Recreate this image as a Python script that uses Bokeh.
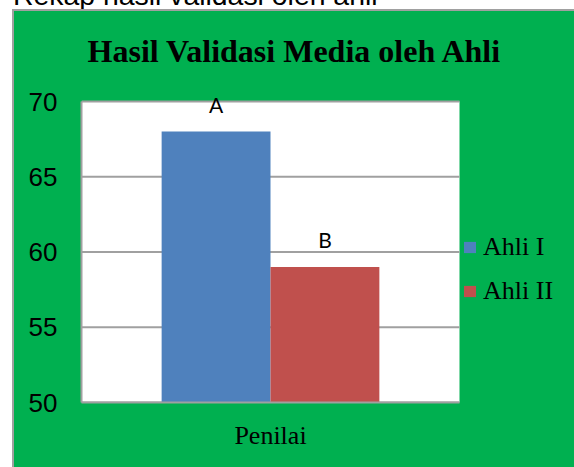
from bokeh.plotting import figure
from bokeh.models import (ColumnDataSource, Range1d, Legend, LegendItem, BoxAnnotation,
                          LabelSet, Label, FixedTicker, Div)
from bokeh.layouts import column
from bokeh.core.properties import value
from bokeh.embed import file_html
from bokeh.resources import INLINE

caption = "Rekap hasil validasi oleh ahli"
title = "Hasil Validasi Media oleh Ahli"
category = ["Penilai"]
series = ["Ahli I", "Ahli II"]
values = [68, 59]
bar_labels = ["A", "B"]
colors = ["#4F81BD", "#C0504D"]
y_ticks = [50, 55, 60, 65, 70]

GREEN = "#00B050"
GRAY = "#a0a0a0"

# layout (pixels, relative to the figure canvas)
FIG_W, FIG_H = 560, 456
PLOT_L, PLOT_W = 67, 378          # white plot area left / width
PLOT_T, PLOT_H = 90, 301          # white plot area top / height
FRAME_T = 0
FRAME_B = FIG_H - (PLOT_T + PLOT_H)

y0, y1 = y_ticks[0], y_ticks[-1]
px_per_unit = PLOT_H / (y1 - y0)
y_end = y1 + (PLOT_T - FRAME_T) / px_per_unit
x_end = (FIG_W - PLOT_L) / PLOT_W * len(category)

p = figure(width=FIG_W, height=FIG_H, x_range=Range1d(0, x_end), y_range=Range1d(y0, y_end),
           output_backend="svg", toolbar_location=None,
           min_border_left=PLOT_L, min_border_right=0, min_border_top=FRAME_T,
           min_border_bottom=FRAME_B,
           background_fill_color=GREEN, border_fill_color=GREEN, outline_line_color=None,
           margin=(0, 0, 0, 14))
p.styles = {"background-color": GREEN, "outline": "2px solid " + GRAY}

p.add_layout(BoxAnnotation(left=0, right=len(category), bottom=y0, top=y1,
                           fill_color="white", fill_alpha=1, line_color=None, level="underlay"))

# horizontal grid lines limited to the plot area
p.segment(x0=[0] * len(y_ticks), x1=[len(category)] * len(y_ticks), y0=y_ticks, y1=y_ticks,
          line_color=GRAY, line_width=2)

centers = [i + 0.5 for i in range(len(category))]
offsets = [-0.144, 0.144]
bar_w = 0.288
renderers = []
for i, s in enumerate(series):
    src = ColumnDataSource(dict(x=[c + offsets[i] for c in centers], top=[values[i]],
                                label=[bar_labels[i]]))
    r = p.vbar(x="x", top="top", bottom=y0, width=bar_w, source=src,
               fill_color=colors[i], line_color=None)
    renderers.append(r)
    p.add_layout(LabelSet(x="x", y="top", text="label", source=src,
                          y_offset=19, text_align="center", text_baseline="alphabetic",
                          text_font=value("Lato"), text_font_size=value("21px"),
                          text_color="black"))

p.yaxis.ticker = FixedTicker(ticks=y_ticks)
p.yaxis.bounds = (y0, y1)
p.yaxis.major_label_text_font = "Liberation Sans"
p.yaxis.major_label_text_font_size = "26px"
p.yaxis.major_label_text_color = "black"
p.yaxis.major_label_standoff = 24
p.yaxis.major_tick_out = 0
p.yaxis.major_tick_in = 0
p.yaxis.major_tick_line_color = None
p.yaxis.minor_tick_line_color = None
p.yaxis.axis_line_color = GRAY
p.yaxis.axis_line_width = 2

p.xaxis.ticker = FixedTicker(ticks=centers)
p.xaxis.major_label_overrides = {c: lab for c, lab in zip(centers, category)}
p.xaxis.bounds = (0, len(category))
p.xaxis.major_label_text_font = "Liberation Serif"
p.xaxis.major_label_text_font_size = "26px"
p.xaxis.major_label_text_color = "black"
p.xaxis.major_label_standoff = 18
p.xaxis.major_tick_out = 0
p.xaxis.major_tick_in = 0
p.xaxis.major_tick_line_color = None
p.xaxis.minor_tick_line_color = None
p.xaxis.axis_line_color = GRAY
p.xaxis.axis_line_width = 2

p.xgrid.grid_line_color = None
p.ygrid.grid_line_color = None

legend = Legend(items=[LegendItem(label=s, renderers=[r]) for s, r in zip(series, renderers)],
                location=(PLOT_W + 3, 96), padding=0, margin=0, spacing=14,
                glyph_width=15, glyph_height=14, label_height=26, label_standoff=6,
                label_text_font="Liberation Serif", label_text_font_size="26px",
                label_text_color="black",
                background_fill_alpha=0, border_line_color=None)
p.add_layout(legend, "center")

p.add_layout(Label(x=213.5, y=352, x_units="screen", y_units="screen", text=title,
                   text_align="center", text_baseline="alphabetic", text_font="Liberation Serif",
                   text_font_size="32px", text_font_style="bold", text_color="black"))

cap = Div(text=('<div style="position:relative; top:-19px; left:13px; white-space:nowrap; '
                'font-family:\'Liberation Sans\'; font-size:28.4px; line-height:28px; color:black;">'
                + caption + '</div>'),
          width=574, height=11, margin=0)

layout = column(cap, p, spacing=0)
open("out.html", "w").write(file_html(layout, INLINE))
